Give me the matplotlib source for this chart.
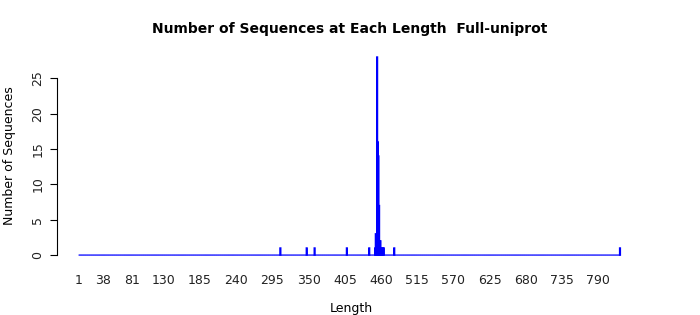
import numpy as np
import matplotlib.pyplot as plt

# sequence lengths with at least one sequence, and how many
seq_lengths = [307, 347, 359, 408, 442, 451, 452, 454, 455, 456, 457, 458,
               459, 460, 461, 463, 464, 480, 823]
seq_counts = [1, 1, 1, 1, 1, 1, 3, 28, 16, 14, 7, 2,
              2, 1, 1, 1, 1, 1, 1]
max_length = 823

xtick_labels = [1, 38, 81, 130, 185, 240, 295, 350, 405, 460, 515, 570,
                625, 680, 735, 790]
ytick_vals = [0, 5, 10, 15, 20, 25]

title = "Number of Sequences at Each Length  Full-uniprot"

# one bar per length, zero where nothing was seen
all_lengths = np.arange(1, max_length + 1)
all_counts = np.zeros(max_length)
all_counts[np.array(seq_lengths) - 1] = seq_counts

fig = plt.figure(figsize=(7, 3.15), dpi=100)
ax = fig.add_axes([57 / 700, 0.165, (645 - 57) / 700, 0.844 - 0.165])

ax.bar(all_lengths, all_counts, width=1.0, color='#0000ff',
       edgecolor='#0000ff', linewidth=1.1, align='center', snap=False)

ax.set_xlim(-32.4, 861)
ax.set_ylim(-1.12, 29.12)

for s in ['top', 'right', 'bottom']:
    ax.spines[s].set_visible(False)
ax.spines['left'].set_bounds(0, 25)
ax.spines['left'].set_linewidth(0.8)

ax.set_yticks(ytick_vals)
ax.set_yticklabels([str(v) for v in ytick_vals], rotation=90, va='center',
                   fontsize=9, color='#222222')
ax.tick_params(axis='y', length=5, width=0.8, pad=4)

ax.set_xticks(xtick_labels)
ax.set_xticklabels([str(v) for v in xtick_labels], fontsize=9, color='#222222')
ax.tick_params(axis='x', length=0, pad=8)

ax.set_xlabel("Length", fontsize=9, labelpad=11)
ax.set_ylabel("Number of Sequences", fontsize=9, labelpad=11)
fig.text(350 / 700, 1 - 29 / 315, title, ha='center', va='center',
         fontsize=10, fontweight='bold')

fig.savefig("out.png", dpi=100, facecolor='white')
